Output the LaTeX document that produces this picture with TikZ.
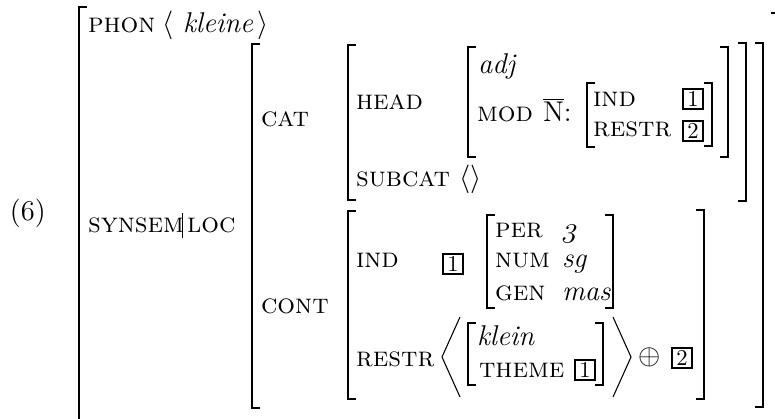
\documentclass[tikz,border=0pt]{standalone}
\newcommand\avmL[3]{\draw[brk] ({#1+8},#2) -- (#1,#2) -- (#1,#3) -- ({#1+8},#3);}
\newcommand\avmR[3]{\draw[brk] ({#1-8},#2) -- (#1,#2) -- (#1,#3) -- ({#1-8},#3);}
\newcommand\atr[1]{{\fontsize{11.7}{13.5}\selectfont\textsc{#1}}}
\begin{document}
\begin{tikzpicture}[x=0.42pt,y=-0.42pt,
  every node/.style={inner sep=0pt,outer sep=0pt,font=\fontsize{12}{14}\selectfont},
  attr/.style={anchor=base west},
  tag/.style={draw,line width=1pt,minimum size=8.6pt,font=\fontsize{9.5}{10}\selectfont,anchor=center},
  brk/.style={line width=0.75pt},
  angl/.style={line width=0.45pt}]
\useasboundingbox (0,0) rectangle (775,419);
% example number
\node[attr] (ex) at (10,220) {(6)};
% PHON
\node[attr] (phon) at (88,33) {\atr{phon}};
\node[attr] (pl) at (162,33) {$\langle$};
\node[attr] (kleine) at (183,33) {\textit{kleine}};
\node[attr] (pr) at (257,33) {$\rangle$};
% SYNSEM|LOC
\node[attr] (synsem) at (88,232) {\atr{synsem}};
\node[attr] (loc) at (187,232) {\atr{loc}};
\draw[line width=0.4pt] (182,213) -- (182,238);
% CAT / CONT
\node[attr] (cat) at (261,127) {\atr{cat}};
\node[attr] (cont) at (261,313) {\atr{cont}};
% HEAD / SUBCAT
\node[attr] (head) at (356,110) {\atr{head}};
\node[attr] (subcat) at (356,187) {\atr{subcat}};
\node[attr] (empty) at (459,187) {$\langle\rangle$};
% head value
\node[attr] (adj) at (478,74) {\textit{adj}};
\node[attr] (mod) at (477,122) {\atr{mod}};
\node[attr] (nbar) at (543,122) {$\overline{\mathrm{N}}$:};
\node[attr] (ind1) at (593,107) {\atr{ind}};
\node[attr] (restr1) at (593,137) {\atr{restr}};
\node[tag] (t1a) at (693,99) {1};
\node[tag] (t2a) at (693,131) {2};
% CONT value
\node[attr] (ind2) at (356,268) {\atr{ind}};
\node[tag] (t1b) at (453,264) {1};
\node[attr] (per) at (495,237) {\atr{per}};
\node[attr] (num) at (495,268) {\atr{num}};
\node[attr] (gen) at (495,300) {\atr{gen}};
\node[attr,xslant=0.25] (three) at (562,237) {$\mathnormal{3}$};
\node[attr] (sg) at (562,268) {\textit{sg}};
\node[attr] (mas) at (562,300) {\textit{mas}};
\node[attr] (restr2) at (356,366) {\atr{restr}};
\node[attr] (klein) at (477,345) {\textit{klein}};
\node[attr] (theme) at (479,377) {\atr{theme}};
\node[tag] (t1c) at (585,370) {1};
\node (oplus) at (650,357) {$\oplus$};
\node[tag] (t2b) at (682,358) {2};
% big angle brackets
\draw[angl] (460,317) -- (442,357) -- (460,397);
\draw[angl] (613,317) -- (631,357) -- (613,397);
% brackets
\avmL{79}{7}{421}
\draw[brk] (771,13) -- (777,13) -- (777,421);
\avmL{252}{44}{408}
\avmR{763}{43}{407}
\avmL{348}{45}{200}
\avmR{746}{43}{201}
\avmL{468}{47}{157}
\avmR{728}{47}{157}
\avmL{587}{83}{147}
\avmR{712}{83}{146}
\avmL{348}{211}{399}
\avmR{704}{210}{399}
\avmL{487}{215}{308}
\avmR{613}{215}{308}
\avmL{468}{323}{385}
\avmR{603}{323}{385}
\end{tikzpicture}
\end{document}
